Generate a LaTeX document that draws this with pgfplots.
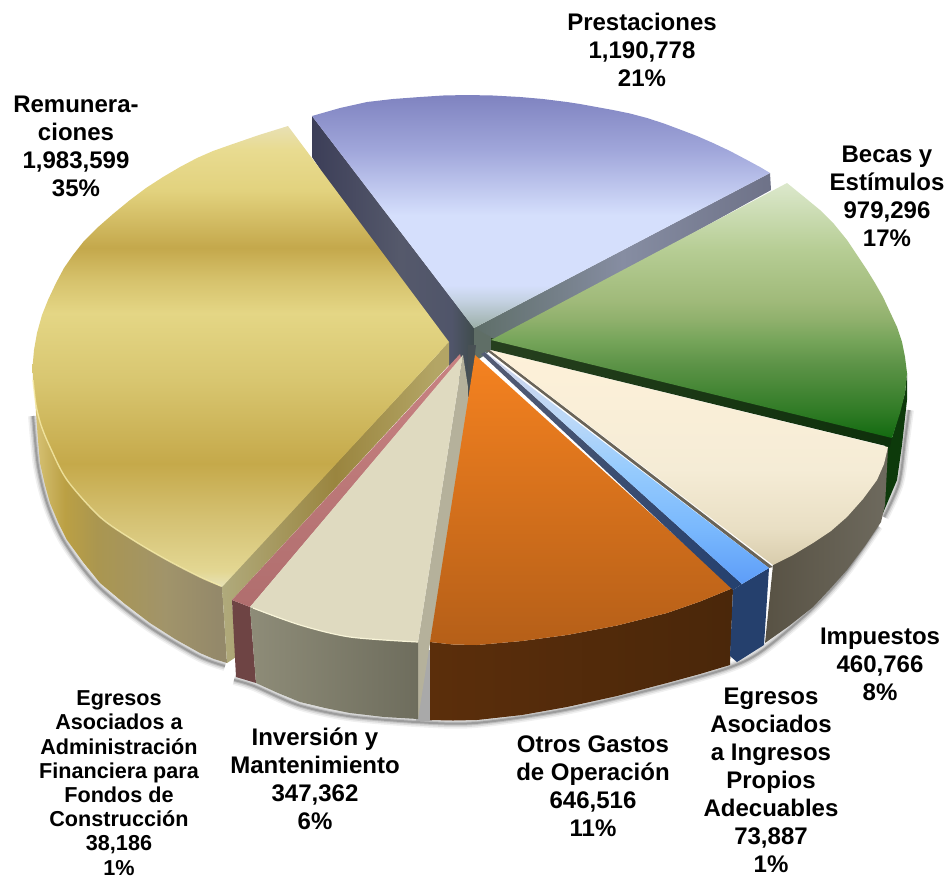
\documentclass[border=0pt]{standalone}
\usepackage{fontspec}
\setmainfont{Liberation Sans}
\usepackage{pgfplots}
\pgfplotsset{compat=1.18}
\definecolor{pA}{HTML}{9CAFA8}\definecolor{pB}{HTML}{C5D2E3}\definecolor{pC}{HTML}{D5DFFC}\definecolor{pD}{HTML}{A0A6DA}\definecolor{pE}{HTML}{7F83C0}
\pgfdeclareverticalshading{presS}{100bp}{color(0bp)=(pA);color(25bp)=(pA);color(31bp)=(pB);color(34.2bp)=(pC);color(49.2bp)=(pC);color(63.2bp)=(pD);color(75bp)=(pE);color(100bp)=(pE)}
\definecolor{yA}{HTML}{E8E2B8}\definecolor{yB}{HTML}{E3D793}\definecolor{yC}{HTML}{D5C274}\definecolor{yD}{HTML}{C5A94A}\definecolor{yE}{HTML}{D8C670}\definecolor{yF}{HTML}{E4D685}\definecolor{yG}{HTML}{D6C26C}\definecolor{yH}{HTML}{C4A84C}\definecolor{yI}{HTML}{E2D27E}\definecolor{yJ}{HTML}{E8DB90}\definecolor{yK}{HTML}{E8E0B4}
\pgfdeclareverticalshading{yelS}{100bp}{color(0bp)=(yA);color(25bp)=(yA);color(26.7bp)=(yB);color(32.2bp)=(yC);color(38.4bp)=(yD);color(47.4bp)=(yE);color(54.7bp)=(yF);color(58.3bp)=(yG);color(61.8bp)=(yH);color(68bp)=(yI);color(72.4bp)=(yJ);color(75bp)=(yK);color(100bp)=(yK)}
\definecolor{gA}{HTML}{126A10}\definecolor{gB}{HTML}{2E7A24}\definecolor{gC}{HTML}{5E9448}\definecolor{gD}{HTML}{76A55A}\definecolor{gE}{HTML}{8FB06C}\definecolor{gF}{HTML}{A0BA7A}\definecolor{gG}{HTML}{B6CD94}\definecolor{gH}{HTML}{DCE8CC}
\pgfdeclareverticalshading{greS}{100bp}{color(0bp)=(gA);color(25bp)=(gA);color(29.9bp)=(gB);color(39.7bp)=(gC);color(44.2bp)=(gD);color(48.1bp)=(gE);color(52bp)=(gF);color(61.9bp)=(gG);color(75bp)=(gH);color(100bp)=(gH)}
\definecolor{cA}{HTML}{D8CCAC}\definecolor{cB}{HTML}{E9DFC4}\definecolor{cC}{HTML}{F5ECD6}\definecolor{cD}{HTML}{FEF1D9}
\pgfdeclareverticalshading{creS}{100bp}{color(0bp)=(cA);color(25bp)=(cA);color(33.5bp)=(cB);color(47.4bp)=(cC);color(75bp)=(cD);color(100bp)=(cD)}
\definecolor{bA}{HTML}{5D9DF8}\definecolor{bB}{HTML}{79B8FD}\definecolor{bC}{HTML}{96CBFD}\definecolor{bD}{HTML}{BBD8F8}\definecolor{bE}{HTML}{D0D4EA}
\pgfdeclareverticalshading{bluS}{100bp}{color(0bp)=(bA);color(25bp)=(bA);color(36.8bp)=(bB);color(49.7bp)=(bC);color(60.4bp)=(bD);color(75bp)=(bE);color(100bp)=(bE)}
\definecolor{ysA}{HTML}{D8C478}\definecolor{ysB}{HTML}{BBA044}\definecolor{ysC}{HTML}{AA9650}\definecolor{ysD}{HTML}{A1946A}\definecolor{ysE}{HTML}{94896A}
\pgfdeclarehorizontalshading{ysS}{100bp}{color(0bp)=(ysA);color(25bp)=(ysA);color(33.2bp)=(ysB);color(41.6bp)=(ysC);color(59bp)=(ysD);color(72.5bp)=(ysE);color(100bp)=(ysE)}
\definecolor{ycA}{HTML}{B0AA7C}\definecolor{ycB}{HTML}{9A853F}\definecolor{ycC}{HTML}{B3A565}
\pgfdeclarehorizontalshading{ycS}{100bp}{color(0bp)=(ycA);color(25bp)=(ycA);color(50bp)=(ycB);color(72bp)=(ycC);color(100bp)=(ycC)}
\definecolor{prA}{HTML}{5E6E68}\definecolor{prB}{HTML}{868DA2}\definecolor{prC}{HTML}{6E7288}
\pgfdeclarehorizontalshading{prS}{100bp}{color(0bp)=(prA);color(25bp)=(prA);color(50bp)=(prB);color(75bp)=(prC);color(100bp)=(prC)}
\definecolor{plA}{HTML}{3C3E58}\definecolor{plB}{HTML}{55596B}\definecolor{plC}{HTML}{50556A}\definecolor{plD}{HTML}{3F4C4C}
\pgfdeclarehorizontalshading{plS}{100bp}{color(0bp)=(plA);color(25bp)=(plA);color(52bp)=(plB);color(68bp)=(plC);color(75bp)=(plD);color(100bp)=(plD)}
\newcommand{\lab}[3]{\node[align=center,text=black,inner sep=0pt,font=\bfseries\fontsize{24}{28}\selectfont] at (axis cs:#1,#2) {#3};}
\newcommand{\shad}[2]{%
\addplot[smooth,draw=black,line width=#1,opacity=#2] coordinates {(33,416)(38,466)(48,506)(65,543)(98,586)(148,626)(198,656)(225,666)};
\addplot[smooth,draw=black,line width=#1,opacity=#2] coordinates {(234,680)(254,686)(298,705)(348,716)(416,722)(475,723)(565,710)(665,686)(728,668)(762,651)(811,610)(845,573)(878,526)};
\addplot[smooth,draw=black,line width=#1,opacity=#2] coordinates {(884,517)(899,483)(905,440)(909,410)};
}
\begin{document}
\begin{tikzpicture}
\path[use as bounding box] (0,0) rectangle (947pt,879pt);
\begin{axis}[scale only axis,width=947pt,height=879pt,xmin=0,xmax=947,ymin=0,ymax=879,y dir=reverse,hide axis,clip=false]
% shadow
\shad{10pt}{0.06}
\shad{7pt}{0.09}
\shad{4pt}{0.13}
\shad{2pt}{0.18}
% Prestaciones left face
\addplot[draw=none,shading=plS] coordinates {(312,116)(474,328)(474,392)(468,396)(449,365)(312,157)};
% Prestaciones right face and centre
\addplot[draw=none,shading=prS] coordinates {(474,328)(770,173)(771,190)(491,345)(474,360)};
\addplot[draw=none,fill={rgb,255:red,95;green,110;blue,102}] coordinates {(474,328)(491,337)(491,350)(482,357)(474,362)};
% Prestaciones top
\addplot[draw=none,shading=presS] coordinates {(474,328)(312,116)(340,108)(367,102)(393,99)(420,97)(443,95.5)(467,95)(493,95.5)(520,97)(543,99)(567,102)(580,104)(613,110)(630,113.5)(647,118)(664,123.5)(680,129.5)(697,136)(713,143)(730,151)(747,160)(760,167)(770,173)};
% Remuneraciones side and cut
\addplot[draw=none,shading=ysS] coordinates {(33,360)(36,413)(38,440)(40,463)(45,485)(50,503)(58,522)(67,540)(83,562)(100,583)(125,604)(150,623)(175,639)(200,653)(214,659)(227,663)(222,586)};
\addplot[draw=none,shading=ycS] coordinates {(222,586)(449,342)(449,365)(232,600)(236,657)(227,663)};
% Remuneraciones top
\addplot[draw=none,shading=yelS] coordinates {(449,342)(288,126)(259,135)(230,145)(213,151)(197,158)(180,167)(163,177)(146,188)(130,200)(113,214)(97,228)(84,241)(73,255)(64,268)(56,283)(48,300)(42,315)(37,333)(34,350)(32.5,367)(33,380)(36,405)(41,425)(50,447)(57,462.5)(67,480)(82.5,499)(100,517)(116.5,529.5)(133,540)(150,550.5)(167,560)(183.5,568.5)(200,577)(211,582)(222,587)};
\addplot[smooth,draw={rgb,255:red,247;green,236;blue,170},line width=1.4pt,opacity=.8] coordinates {(33,380)(36,405)(41,425)(50,447)(67,480)(100,517)(133,540)(167,560)(200,577)(221,586)};
% Pink slice
\addplot[draw=none,fill={rgb,255:red,110;green,68;blue,68}] coordinates {(232,600)(250,607)(256,683)(236,677)};
\addplot[draw=none,top color={rgb,255:red,200;green,130;blue,130},bottom color={rgb,255:red,176;green,110;blue,110}] coordinates {(460,354)(232,600)(250,607)(461,358)};
% Inversion
\addplot[draw=none,fill={rgb,255:red,169;green,169;blue,169}] coordinates {(416,650)(432,650)(432,721)(416,721)};
\addplot[draw=none,fill={rgb,255:red,181;green,177;blue,155}] coordinates {(463,355)(470,400)(430,643)(418,719)(418,642)};
\addplot[draw=none,left color={rgb,255:red,142;green,140;blue,120},right color={rgb,255:red,110;green,109;blue,93}] coordinates {(250,607)(276,617)(300,625)(325,632)(350,637)(384,640)(418,642)(418,719)(384,717)(350,713)(325,708)(300,702)(278,693)(256,683)};
\addplot[draw=none,fill={rgb,255:red,223;green,218;blue,192}] coordinates {(463,355)(250,607)(276,617)(300,625)(325,632)(350,637)(384,640)(418,642)};
\addplot[smooth,draw={rgb,255:red,248;green,244;blue,216},line width=1.2pt] coordinates {(253,608)(300,625)(350,637)(418,642)};
% Dark centre below
\addplot[draw=none,fill={rgb,255:red,72;green,80;blue,84}] coordinates {(468,345)(476,345)(470,398)(468,396)};
% Orange
\addplot[draw=none,left color={rgb,255:red,91;green,46;blue,11},right color={rgb,255:red,74;green,39;blue,10}] coordinates {(430,642)(453,644.5)(477,645)(522,641)(567,635)(617,625.5)(667,613)(700,601.5)(733,588)(730,665)(700,674)(667,683)(617,696)(567,707)(522,715)(477,720)(453,720.5)(430,720)};
\addplot[draw=none,top color={rgb,255:red,245;green,130;blue,32},bottom color={rgb,255:red,181;green,95;blue,24}] coordinates {(475,355)(430,642)(453,644.5)(477,645)(522,641)(567,635)(617,625.5)(667,613)(700,601.5)(733,588)};
% Green side (behind cream)
\addplot[draw=none,fill={rgb,255:red,13;green,58;blue,11}] coordinates {(892,438)(905,393)(907,373)(907,400)(902,445)(897,480)(883,513)(885,438)};
% Impuestos
\addplot[draw=none,left color={rgb,255:red,88;green,82;blue,68},right color={rgb,255:red,110;green,106;blue,94}] coordinates {(773,565)(765,643)(789,626)(813,607)(830,589)(847,570)(865,546)(881,522)(885,505)(886,487)(888,448)};
\addplot[draw=none,fill={rgb,255:red,106;green,100;blue,88}] coordinates {(486,350)(490,350)(773,567)(769,568)};
\addplot[draw=none,shading=creS] coordinates {(490,350)(888,447)(884,464)(877,480)(863,499)(847,517)(831,531)(813,543)(793,555)(773,565)};
% Blue
\addplot[draw=none,fill={rgb,255:red,37;green,64;blue,109}] coordinates {(733,590)(742,584)(769,568)(764,645)(737,662)(730,656)};
\addplot[draw=none,left color={rgb,255:red,84;green,92;blue,115},right color={rgb,255:red,36;green,64;blue,111}] coordinates {(481,354)(485,352)(742,584)(733,590)};
\addplot[draw=none,shading=bluS] coordinates {(485,352)(769,568)(742,584)};
% Green top
\addplot[draw=none,left color={rgb,255:red,38;green,63;blue,30},right color={rgb,255:red,14;green,48;blue,11}] coordinates {(491,338)(892,437)(890,447)(491,350)};
\addplot[draw=none,shading=greS] coordinates {(491,340)(787,183)(803,196)(820,210)(834,224)(847,240)(857,255)(867,270)(875,283)(883,297)(890,312)(897,327)(902,342)(905,357)(907,373)(905,393)(900,413)(892,438)};
% Labels
\lab{642}{50}{Prestaciones\\1,190,778\\21\%}
\lab{76}{146}{Remunera-\\ciones\\1,983,599\\35\%}
\lab{887}{196}{Becas y\\Estímulos\\979,296\\17\%}
\lab{880}{664}{Impuestos\\460,766\\8\%}
\lab{771}{780}{Egresos\\Asociados\\a Ingresos\\Propios\\Adecuables\\73,887\\1\%}
\lab{593}{786}{Otros Gastos\\de Operación\\646,516\\11\%}
\lab{315}{779}{Inversión y\\Mantenimiento\\347,362\\6\%}
\node[align=center,text=black,inner sep=0pt,font=\bfseries\fontsize{21.6}{24.2}\selectfont] at (axis cs:119,783) {Egresos\\Asociados a\\Administración\\Financiera para\\Fondos de\\Construcción\\38,186\\1\%};
\end{axis}
\end{tikzpicture}
\end{document}
